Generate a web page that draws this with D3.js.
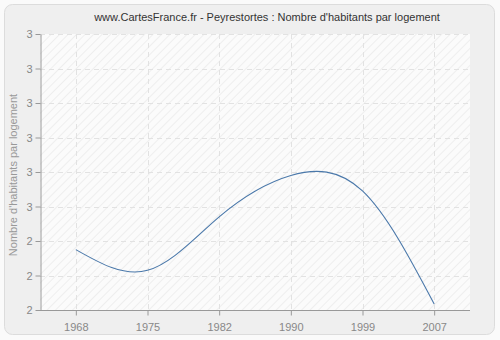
<!DOCTYPE html>
<html><head><meta charset="utf-8">
<script src="https://cdn.jsdelivr.net/npm/d3@7"></script>
<style>body{margin:0;background:#fafafa;}svg{display:block;font-family:"Liberation Sans",Arial,sans-serif;}</style>
</head><body>
<svg id="c" width="500" height="340"></svg>
<script>
const years = ["1968","1975","1982","1990","1999","2007"];
const values = [2.475, 2.463, 2.494, 2.518, 2.509, 2.4435];
const yTicks = [244,246,248,250,252,254,256,258,260].map(v => v/100);
const title = "www.CartesFrance.fr - Peyrestortes : Nombre d'habitants par logement";
const yTitle = "Nombre d'habitants par logement";

const svg = d3.select("#c");
const L = 40, R = 470, T = 34, B = 310;
const FONT = "Liberation Sans, Arial, sans-serif";

svg.append("rect").attr("x",4.5).attr("y",4.5).attr("width",490).attr("height",330)
  .attr("rx",8).attr("fill","#efefef").attr("stroke","#dcdcdc");

const defs = svg.append("defs");
const pat = defs.append("pattern").attr("id","hatch").attr("patternUnits","userSpaceOnUse")
  .attr("width",6).attr("height",6).attr("patternTransform","rotate(45)");
pat.append("rect").attr("width",6).attr("height",6).attr("fill","#fbfbfb");
pat.append("line").attr("x1",0).attr("y1",0).attr("x2",0).attr("y2",6).attr("stroke","#eeeeee").attr("stroke-width",2);

svg.append("rect").attr("x",L).attr("y",T).attr("width",R-L).attr("height",B-T).attr("fill","url(#hatch)");

const x = d3.scalePoint().domain(years).range([L, R]).padding(0.5);
const y = d3.scaleLinear().domain([2.44, 2.60]).range([B, T]);

// grid
svg.append("g").selectAll("line").data(yTicks.slice(1)).join("line")
  .attr("x1",L).attr("x2",R).attr("y1",d=>Math.round(y(d))+0.5).attr("y2",d=>Math.round(y(d))+0.5)
  .attr("stroke","#e2e2e2").attr("stroke-dasharray","5,4");
svg.append("g").selectAll("line").data(years).join("line")
  .attr("y1",T).attr("y2",B).attr("x1",d=>Math.round(x(d))+0.5).attr("x2",d=>Math.round(x(d))+0.5)
  .attr("stroke","#e2e2e2").attr("stroke-dasharray","5,4");

// axes
const ya = svg.append("g").attr("transform",`translate(${L+0.5},0)`)
  .call(d3.axisLeft(y).tickValues(yTicks).tickFormat(d=>Math.round(d)).tickSize(5).tickSizeOuter(0));
const xa = svg.append("g").attr("transform",`translate(0,${B+0.5})`)
  .call(d3.axisBottom(x).tickSize(5).tickSizeOuter(0));
[ya, xa].forEach(g => {
  g.select(".domain").attr("stroke","#999");
  g.selectAll(".tick line").attr("stroke","#999");
  g.selectAll("text").attr("fill","#888").attr("font-size",11).attr("font-family",FONT);
});
xa.selectAll("text").attr("dy","1.1em");
xa.select(".domain").attr("d",`M${L},0H${R}`);

// line
const line = d3.line().x((d,i)=>x(years[i])).y(d=>y(d)).curve(d3.curveNatural);
svg.append("path").datum(values).attr("d",line).attr("fill","none")
  .attr("stroke","#4a78aa").attr("stroke-width",1.1);

svg.append("text").attr("x",267).attr("y",21).attr("text-anchor","middle")
  .attr("font-size",11).attr("font-family",FONT).attr("fill","#333").text(title);
svg.append("text").attr("transform","translate(17,175) rotate(-90)").attr("text-anchor","middle")
  .attr("font-size",11).attr("font-family",FONT).attr("fill","#999").text(yTitle);
</script>
</body></html>
